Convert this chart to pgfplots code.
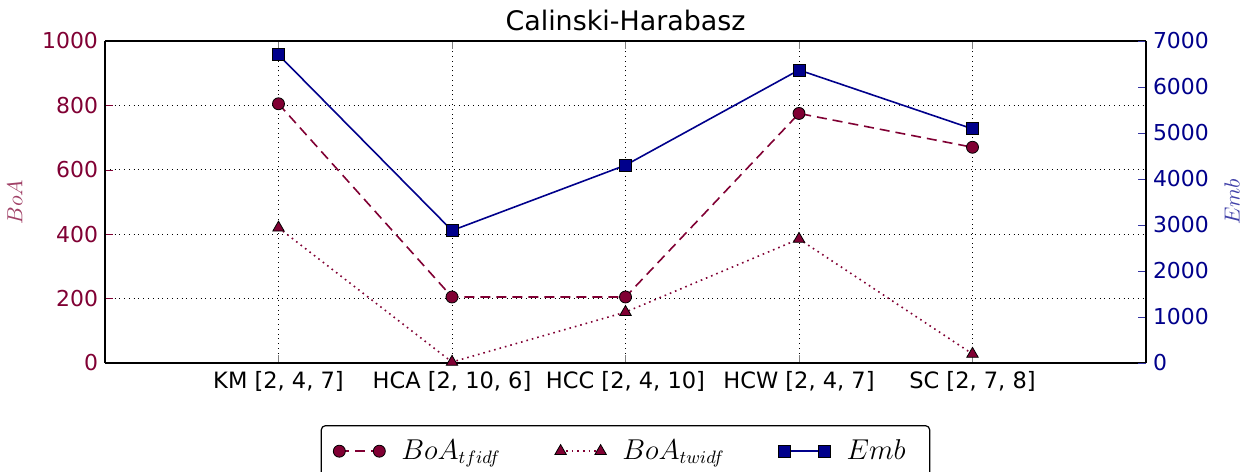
\documentclass[border=0pt]{standalone}
\usepackage{pgfplots}
\pgfplotsset{compat=1.18}
\usepackage{fontspec}
\setmainfont{DejaVu Sans}
\definecolor{boa}{RGB}{128,0,51}
\definecolor{emb}{RGB}{0,0,139}
\pgfplotstableread{
x tfidf twidf emb
0 805 420 6700
1 205 3 2880
2 205 158 4300
3 775 385 6370
4 670 28 5090
}\datatable
\begin{document}
\begin{tikzpicture}[x=1bp,y=1bp]
\begin{axis}[
  name=main,
  scale only axis,
  width=520.5bp, height=161bp,
  xmin=-1, xmax=5,
  ymin=0, ymax=1000,
  xtick={0,1,2,3,4},
  xticklabels={{KM [2, 4, 7]},{HCA [2, 10, 6]},{HCC [2, 4, 10]},{HCW [2, 4, 7]},{SC [2, 7, 8]}},
  ytick={0,200,400,600,800,1000},
  tick align=inside,
  axis y line*=left,
  x tick label style={font=\fontsize{11.3}{13}\selectfont, yshift=-0.5bp},
  y tick label style={font=\fontsize{11}{13}\selectfont, color=boa},
  ytick style={color=boa},
  /pgf/number format/assume math mode=true,
  /pgf/number format/1000 sep={},
  major tick length=4bp,
  grid=major,
  grid style={black, dotted, line width=0.5bp},
  axis line style={line width=0.9bp},
  title={Calinski-Harabasz},
  title style={font=\fontsize{13.5}{15}\selectfont, yshift=-4.5bp},
  ylabel={$BoA$},
  ylabel style={color=boa!75, font=\fontsize{11}{13}\selectfont, yshift=3bp},
  legend style={at={(0.5,-0.193)}, anchor=north, legend columns=3, draw=black, line width=0.6bp, rounded corners=2bp, font=\fontsize{13.5}{15}\selectfont, inner xsep=6bp, inner ysep=5bp,
    /tikz/every odd column/.append style={column sep=6bp},
    /tikz/every even column/.append style={column sep=25bp}},
  legend cell align=left,
  legend image code/.code={\draw[#1] plot coordinates {(0bp,0bp) (20bp,0bp)};},
]
\addlegendimage{boa, line width=0.8bp, dash pattern=on 5bp off 3bp, mark=*, mark size=3bp, mark options={solid, fill=boa, draw=black, line width=0.4bp}}
\addlegendentry{$BoA_{tfidf}$}
\addlegendimage{boa, line width=0.8bp, dash pattern=on 0.8bp off 2bp, mark=triangle*, mark size=3.3bp, mark options={solid, fill=boa, draw=black, line width=0.4bp}}
\addlegendentry{$BoA_{twidf}$}
\addlegendimage{emb, line width=0.8bp, mark=square*, mark size=3bp, mark options={solid, fill=emb, draw=black, line width=0.4bp}}
\addlegendentry{$Emb\hspace{4bp}$}
\addplot[boa, line width=0.8bp, dash pattern=on 5bp off 3bp, mark=*, mark size=3bp, mark options={solid, fill=boa, draw=black, line width=0.4bp}] table[x=x, y=tfidf] {\datatable};
\addplot[boa, line width=0.8bp, dash pattern=on 0.8bp off 2bp, mark=triangle*, mark size=3.3bp, mark options={solid, fill=boa, draw=black, line width=0.4bp}] table[x=x, y=twidf] {\datatable};
\end{axis}
\begin{axis}[
  scale only axis,
  width=520.5bp, height=161bp,
  xmin=-1, xmax=5,
  ymin=0, ymax=7000,
  axis x line=none,
  axis y line*=right,
  ytick={0,1000,2000,3000,4000,5000,6000,7000},
  tick align=inside,
  major tick length=4bp,
  y tick label style={font=\fontsize{11}{13}\selectfont, color=emb},
  ytick style={color=emb!80},
  /pgf/number format/assume math mode=true,
  /pgf/number format/1000 sep={},
  axis line style={line width=0.9bp},
  ylabel={$Emb$},
  ylabel style={color=emb!75, font=\fontsize{11}{13}\selectfont, yshift=-1bp},
  clip=false,
]
\addplot[emb, line width=0.8bp, mark=square*, mark size=3bp, mark options={solid, fill=emb, draw=black, line width=0.4bp}] table[x=x, y=emb] {\datatable};
\end{axis}
\pgfresetboundingbox
\useasboundingbox (-52.5bp,-54.5bp) rectangle (569.5bp,181.5bp);
\end{tikzpicture}
\end{document}
